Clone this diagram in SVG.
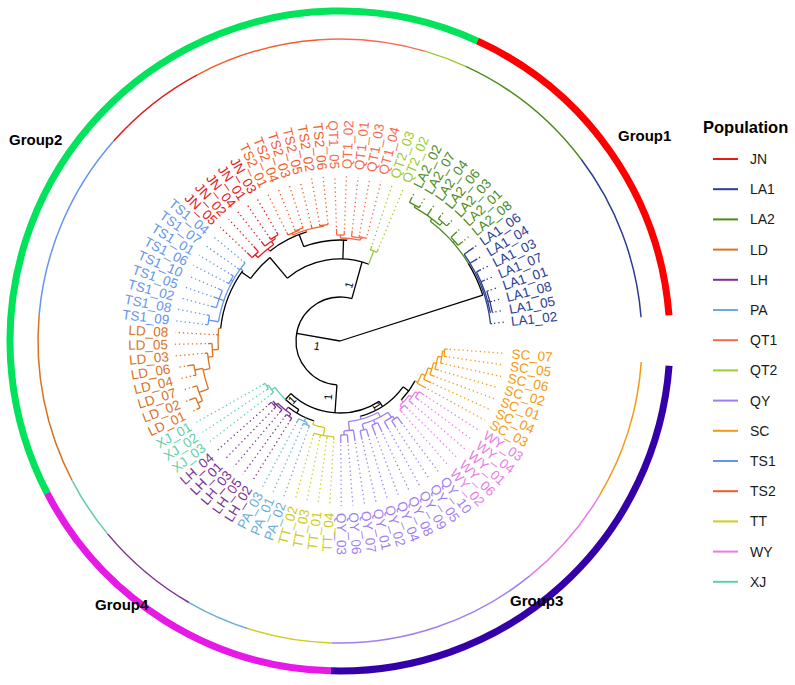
<svg xmlns="http://www.w3.org/2000/svg" width="795" height="685" viewBox="0 0 795 685">
<style>
text{font-family:"Liberation Sans",Arial,Helvetica,sans-serif;fill:currentColor;stroke:none}
line,circle{stroke:currentColor;fill:none}
#connectors line,#connectors circle{stroke-width:1.3}
.d{stroke-dasharray:1.3 3;stroke-width:1.3}
.tips text{font-size:13.5px}
.f{text-anchor:end}
.nl{font-size:11px;text-anchor:middle;fill:#000}
.grp{font-size:15px;font-weight:bold;fill:#000}
.lg text{font-size:14px;fill:#1a1a1a}
.lg line{stroke-width:2}
.k{color:#000}
.cJN{color:#e31a1c}.cLA1{color:#2b3d94}.cLA2{color:#4b8b1c}.cLD{color:#d8731f}.cLH{color:#7b3294}
.cPA{color:#6aaed6}.cQT1{color:#f8694f}.cQT2{color:#9acd32}.cQY{color:#9f7ff0}.cSC{color:#f39a12}
.cTS1{color:#6495ed}.cTS2{color:#f25c2a}.cTT{color:#cdcd1a}.cWY{color:#ea7be6}.cXJ{color:#5fd0a6}
</style>
<rect width="795" height="685" fill="#fff"/>
<g transform="translate(340,341)">
<g id="group-ring" stroke-width="7">
<circle r="330" style="color:#ff0000" stroke-dasharray="350.76 3000" transform="rotate(294.59)"/>
<circle r="330" style="color:#00e35a" stroke-dasharray="818.44 3000" transform="rotate(152.49)"/>
<circle r="330" style="color:#3300aa" stroke-dasharray="502.75 3000" transform="rotate(4.3)"/>
<circle r="330" style="color:#e619e6" stroke-dasharray="350.76 3000" transform="rotate(91.59)"/>
</g>
<g id="population-ring" stroke-width="1.5">
<circle r="302" class="cSC" stroke-dasharray="140.68 3000" transform="rotate(4)"/>
<circle r="302" class="cWY" stroke-dasharray="107 3000" transform="rotate(30.69)"/>
<circle r="302" class="cQY" stroke-dasharray="214 3000" transform="rotate(50.99)"/>
<circle r="302" class="cTT" stroke-dasharray="85.6 3000" transform="rotate(91.59)"/>
<circle r="302" class="cPA" stroke-dasharray="64.2 3000" transform="rotate(107.83)"/>
<circle r="302" class="cLH" stroke-dasharray="107 3000" transform="rotate(120.01)"/>
<circle r="302" class="cXJ" stroke-dasharray="64.2 3000" transform="rotate(140.31)"/>
<circle r="302" class="cLD" stroke-dasharray="171.2 3000" transform="rotate(152.49)"/>
<circle r="302" class="cTS1" stroke-dasharray="192.6 3000" transform="rotate(184.97)"/>
<circle r="302" class="cJN" stroke-dasharray="107 3000" transform="rotate(221.51)"/>
<circle r="302" class="cTS2" stroke-dasharray="128.4 3000" transform="rotate(241.81)"/>
<circle r="302" class="cQT1" stroke-dasharray="107 3000" transform="rotate(266.17)"/>
<circle r="302" class="cQT2" stroke-dasharray="42.8 3000" transform="rotate(286.47)"/>
<circle r="302" class="cLA2" stroke-dasharray="149.8 3000" transform="rotate(294.59)"/>
<circle r="302" class="cLA1" stroke-dasharray="171.2 3000" transform="rotate(323.01)"/>
</g>
<g id="connectors">
<g class="k">
<line x1="0" x2="150" transform="rotate(342.2)"/>
<line x1="0" x2="44" transform="rotate(190)"/>
<circle r="44" stroke-dasharray="147.1 3000" transform="rotate(94)"/>
<line x1="44" x2="82" transform="rotate(285.6)"/>
<line x1="44" x2="72" transform="rotate(94)"/>
<circle r="150" stroke-dasharray="35.08 3000" transform="rotate(328.8)"/>
<circle r="82" stroke-dasharray="86.58 3000" transform="rotate(230)"/>
<line x1="82" x2="101" transform="rotate(272)"/>
<circle r="101" stroke-dasharray="44.07 3000" transform="rotate(249)"/>
<line x1="101" x2="114" transform="rotate(249)"/>
<circle r="114" stroke-dasharray="41.78 3000" transform="rotate(232)"/>
<line x1="82" x2="109" transform="rotate(230)"/>
<circle r="109" stroke-dasharray="28.54 3000" transform="rotate(215)"/>
<line x1="109" x2="120" transform="rotate(215)"/>
<circle r="120" stroke-dasharray="62.83 3000" transform="rotate(186)"/>
<circle r="72" stroke-dasharray="95.5 3000" transform="rotate(57)"/>
<line x1="72" x2="80" transform="rotate(133)"/>
<circle r="80" stroke-dasharray="16.76 3000" transform="rotate(121)"/>
<line x1="80" x2="84" transform="rotate(121)"/>
<circle r="84" stroke-dasharray="29.32 3000" transform="rotate(108)"/>
<line x1="72" x2="78" transform="rotate(57)"/>
<circle r="78" stroke-dasharray="53.09 3000" transform="rotate(36)"/>
<line x1="78" x2="85" transform="rotate(36)"/>
<circle r="85" stroke-dasharray="23.74 3000" transform="rotate(28)"/>
</g>
<g class="cSC">
<line x1="85" x2="88" transform="rotate(28)"/>
<circle r="88" stroke-dasharray="10.23 3000" transform="rotate(22)"/>
<line x1="88" x2="98" transform="rotate(28.66)"/>
<line x1="88" x2="92" transform="rotate(22)"/>
<circle r="92" stroke-dasharray="12.2 3000" transform="rotate(17)"/>
<line x1="92" x2="100" transform="rotate(24.6)"/>
<line x1="92" x2="96" transform="rotate(17)"/>
<circle r="96" stroke-dasharray="12.63 3000" transform="rotate(13)"/>
<line x1="96" x2="101" transform="rotate(20.54)"/>
<line x1="96" x2="99" transform="rotate(13)"/>
<circle r="99" stroke-dasharray="12.92 3000" transform="rotate(9)"/>
<line x1="99" x2="103" transform="rotate(16.48)"/>
<line x1="99" x2="103" transform="rotate(9)"/>
<circle r="103" stroke-dasharray="12.44 3000" transform="rotate(5.5)"/>
<line x1="103" x2="106" transform="rotate(12.42)"/>
<line x1="103" x2="105" transform="rotate(5.5)"/>
<circle r="105" stroke-dasharray="7.44 3000" transform="rotate(4.3)"/>
<line x1="105" x2="108" transform="rotate(8.36)"/>
<line x1="105" x2="108" transform="rotate(4.3)"/>
</g>
<g class="cWY">
<line x1="85" x2="88" transform="rotate(44)"/>
<circle r="88" stroke-dasharray="13.82 3000" transform="rotate(38)"/>
<line x1="88" x2="91" transform="rotate(47)"/>
<circle r="91" stroke-dasharray="6.45 3000" transform="rotate(44.9)"/>
<line x1="91" x2="96" transform="rotate(44.9)"/>
<line x1="91" x2="95" transform="rotate(48.96)"/>
<line x1="88" x2="91" transform="rotate(38)"/>
<circle r="91" stroke-dasharray="10.86 3000" transform="rotate(34)"/>
<line x1="91" x2="97" transform="rotate(40.84)"/>
<line x1="91" x2="94" transform="rotate(34)"/>
<circle r="94" stroke-dasharray="6.66 3000" transform="rotate(32.72)"/>
<line x1="94" x2="100" transform="rotate(32.72)"/>
<line x1="94" x2="99" transform="rotate(36.78)"/>
</g>
<g class="cQY">
<line x1="78" x2="81" transform="rotate(75)"/>
<circle r="81" stroke-dasharray="31.1 3000" transform="rotate(62)"/>
<line x1="81" x2="90" transform="rotate(84)"/>
<circle r="90" stroke-dasharray="9.52 3000" transform="rotate(81.44)"/>
<line x1="90" x2="101" transform="rotate(81.44)"/>
<line x1="90" x2="94" transform="rotate(87.5)"/>
<circle r="94" stroke-dasharray="6.66 3000" transform="rotate(85.5)"/>
<line x1="94" x2="102" transform="rotate(85.5)"/>
<line x1="94" x2="102" transform="rotate(89.56)"/>
<line x1="81" x2="86" transform="rotate(62)"/>
<circle r="86" stroke-dasharray="28.52 3000" transform="rotate(56)"/>
<line x1="86" x2="92" transform="rotate(75)"/>
<circle r="92" stroke-dasharray="6.52 3000" transform="rotate(73.32)"/>
<line x1="92" x2="101" transform="rotate(77.38)"/>
<line x1="92" x2="100" transform="rotate(73.32)"/>
<line x1="86" x2="90" transform="rotate(67)"/>
<circle r="90" stroke-dasharray="6.38 3000" transform="rotate(65.2)"/>
<line x1="90" x2="101" transform="rotate(69.26)"/>
<line x1="90" x2="100" transform="rotate(65.2)"/>
<line x1="86" x2="92" transform="rotate(56)"/>
<circle r="92" stroke-dasharray="9.86 3000" transform="rotate(55)"/>
<line x1="92" x2="101" transform="rotate(61.14)"/>
<line x1="92" x2="95" transform="rotate(55)"/>
<circle r="95" stroke-dasharray="6.73 3000" transform="rotate(53.02)"/>
<line x1="95" x2="103" transform="rotate(57.08)"/>
<line x1="95" x2="104" transform="rotate(53.02)"/>
</g>
<g class="cTT">
<line x1="84" x2="88" transform="rotate(108)"/>
<circle r="88" stroke-dasharray="12.29 3000" transform="rotate(100)"/>
<line x1="88" x2="96" transform="rotate(100)"/>
<circle r="96" stroke-dasharray="20.41 3000" transform="rotate(93.62)"/>
<line x1="96" x2="99" transform="rotate(93.62)"/>
<line x1="96" x2="99" transform="rotate(97.68)"/>
<line x1="96" x2="99" transform="rotate(101.74)"/>
<line x1="96" x2="99" transform="rotate(105.8)"/>
</g>
<g class="cPA">
<line x1="84" x2="88" transform="rotate(114)"/>
<circle r="88" stroke-dasharray="9.34 3000" transform="rotate(111.9)"/>
<line x1="88" x2="90" transform="rotate(111.9)"/>
<circle r="90" stroke-dasharray="6.38 3000" transform="rotate(109.86)"/>
<line x1="90" x2="93" transform="rotate(109.86)"/>
<line x1="90" x2="93" transform="rotate(113.92)"/>
<line x1="88" x2="93" transform="rotate(117.98)"/>
</g>
<g class="cLH">
<line x1="84" x2="88" transform="rotate(128)"/>
<circle r="88" stroke-dasharray="16.89 3000" transform="rotate(124)"/>
<line x1="88" x2="91" transform="rotate(124)"/>
<circle r="91" stroke-dasharray="6.45 3000" transform="rotate(122.04)"/>
<line x1="91" x2="95" transform="rotate(122.04)"/>
<line x1="91" x2="94" transform="rotate(126.1)"/>
<line x1="88" x2="90" transform="rotate(135)"/>
<circle r="90" stroke-dasharray="12.75 3000" transform="rotate(130.16)"/>
<line x1="90" x2="94" transform="rotate(130.16)"/>
<line x1="90" x2="92" transform="rotate(136)"/>
<circle r="92" stroke-dasharray="6.52 3000" transform="rotate(134.22)"/>
<line x1="92" x2="95" transform="rotate(134.22)"/>
<line x1="92" x2="96" transform="rotate(138.28)"/>
</g>
<g class="cXJ">
<circle r="80" stroke-dasharray="16.06 3000" transform="rotate(133)"/>
<line x1="80" x2="84" transform="rotate(144.5)"/>
<circle r="84" stroke-dasharray="8.88 3000" transform="rotate(142.34)"/>
<line x1="84" x2="88" transform="rotate(142.34)"/>
<line x1="84" x2="86" transform="rotate(148.4)"/>
<circle r="86" stroke-dasharray="6.09 3000" transform="rotate(146.4)"/>
<line x1="86" x2="89" transform="rotate(146.4)"/>
<line x1="86" x2="89" transform="rotate(150.46)"/>
</g>
<g class="cLD">
<line x1="120" x2="122" transform="rotate(186)"/>
<circle r="122" stroke-dasharray="21.29 3000" transform="rotate(176)"/>
<line x1="122" x2="124" transform="rotate(182.94)"/>
<line x1="122" x2="128" transform="rotate(176)"/>
<circle r="128" stroke-dasharray="13.14 3000" transform="rotate(173)"/>
<line x1="128" x2="132" transform="rotate(178.88)"/>
<line x1="128" x2="133" transform="rotate(173)"/>
<circle r="133" stroke-dasharray="15.83 3000" transform="rotate(168)"/>
<line x1="133" x2="136" transform="rotate(174.82)"/>
<line x1="133" x2="140" transform="rotate(168)"/>
<circle r="140" stroke-dasharray="21.26 3000" transform="rotate(160)"/>
<line x1="140" x2="148" transform="rotate(168.7)"/>
<circle r="148" stroke-dasharray="10.49 3000" transform="rotate(166.7)"/>
<line x1="148" x2="155" transform="rotate(170.76)"/>
<line x1="148" x2="151" transform="rotate(166.7)"/>
<line x1="140" x2="150" transform="rotate(160)"/>
<circle r="150" stroke-dasharray="16.07 3000" transform="rotate(156.5)"/>
<line x1="150" x2="155" transform="rotate(162.64)"/>
<line x1="150" x2="155" transform="rotate(156.5)"/>
<circle r="155" stroke-dasharray="10.98 3000" transform="rotate(154.52)"/>
<line x1="155" x2="162" transform="rotate(158.58)"/>
<line x1="155" x2="159" transform="rotate(154.52)"/>
</g>
<g class="cTS1">
<line x1="120" x2="123" transform="rotate(216)"/>
<circle r="123" stroke-dasharray="65.43 3000" transform="rotate(189)"/>
<line x1="123" x2="125" transform="rotate(219.48)"/>
<line x1="123" x2="126" transform="rotate(215.42)"/>
<line x1="123" x2="125" transform="rotate(209.3)"/>
<circle r="125" stroke-dasharray="8.86 3000" transform="rotate(207.3)"/>
<line x1="125" x2="128" transform="rotate(207.3)"/>
<line x1="125" x2="128" transform="rotate(211.36)"/>
<line x1="123" x2="128" transform="rotate(199.2)"/>
<circle r="128" stroke-dasharray="18.14 3000" transform="rotate(195.12)"/>
<line x1="128" x2="134" transform="rotate(195.12)"/>
<line x1="128" x2="134" transform="rotate(199.18)"/>
<line x1="128" x2="133" transform="rotate(203.24)"/>
<line x1="123" x2="133" transform="rotate(189)"/>
<circle r="133" stroke-dasharray="9.42 3000" transform="rotate(187)"/>
<line x1="133" x2="136" transform="rotate(187)"/>
<line x1="133" x2="136" transform="rotate(191.06)"/>
</g>
<g class="cJN">
<line x1="114" x2="117" transform="rotate(232)"/>
<circle r="117" stroke-dasharray="20.42 3000" transform="rotate(225.5)"/>
<line x1="117" x2="121" transform="rotate(225.5)"/>
<circle r="121" stroke-dasharray="8.57 3000" transform="rotate(223.54)"/>
<line x1="121" x2="128" transform="rotate(223.54)"/>
<line x1="121" x2="128" transform="rotate(227.6)"/>
<line x1="117" x2="121" transform="rotate(235.5)"/>
<circle r="121" stroke-dasharray="12.86 3000" transform="rotate(231.66)"/>
<line x1="121" x2="127" transform="rotate(231.66)"/>
<line x1="121" x2="123" transform="rotate(237.75)"/>
<circle r="123" stroke-dasharray="8.72 3000" transform="rotate(235.72)"/>
<line x1="123" x2="126" transform="rotate(235.72)"/>
<line x1="123" x2="126" transform="rotate(239.78)"/>
</g>
<g class="cTS2">
<line x1="114" x2="116" transform="rotate(253)"/>
<circle r="116" stroke-dasharray="32.39 3000" transform="rotate(246)"/>
<line x1="116" x2="118" transform="rotate(246)"/>
<circle r="118" stroke-dasharray="12.54 3000" transform="rotate(243.84)"/>
<line x1="118" x2="121" transform="rotate(243.84)"/>
<line x1="118" x2="119" transform="rotate(249.93)"/>
<circle r="119" stroke-dasharray="8.43 3000" transform="rotate(247.9)"/>
<line x1="119" x2="121" transform="rotate(247.9)"/>
<line x1="119" x2="121" transform="rotate(251.96)"/>
<line x1="116" x2="120" transform="rotate(256.02)"/>
<line x1="116" x2="117" transform="rotate(262)"/>
<circle r="117" stroke-dasharray="8.29 3000" transform="rotate(260.08)"/>
<line x1="117" x2="119" transform="rotate(260.08)"/>
<line x1="117" x2="119" transform="rotate(264.14)"/>
</g>
<g class="cQT1">
<line x1="101" x2="103" transform="rotate(274)"/>
<circle r="103" stroke-dasharray="20.13 3000" transform="rotate(270.2)"/>
<line x1="103" x2="106" transform="rotate(270.2)"/>
<circle r="106" stroke-dasharray="7.51 3000" transform="rotate(268.2)"/>
<line x1="106" x2="112" transform="rotate(268.2)"/>
<line x1="106" x2="110" transform="rotate(272.26)"/>
<line x1="103" x2="105" transform="rotate(281.4)"/>
<circle r="105" stroke-dasharray="11.16 3000" transform="rotate(276.32)"/>
<line x1="105" x2="111" transform="rotate(276.32)"/>
<line x1="105" x2="106" transform="rotate(282.41)"/>
<circle r="106" stroke-dasharray="7.51 3000" transform="rotate(280.38)"/>
<line x1="106" x2="108" transform="rotate(280.38)"/>
<line x1="106" x2="107" transform="rotate(284.44)"/>
</g>
<g class="cQT2">
<line x1="82" x2="96" transform="rotate(290.5)"/>
<circle r="96" stroke-dasharray="6.8 3000" transform="rotate(288.5)"/>
<line x1="96" x2="100" transform="rotate(288.5)"/>
<line x1="96" x2="100" transform="rotate(292.56)"/>
</g>
<g class="cLA2">
<circle r="150" stroke-dasharray="57.07 3000" transform="rotate(307)"/>
<line x1="150" x2="153" transform="rotate(307)"/>
<circle r="153" stroke-dasharray="31.51 3000" transform="rotate(299)"/>
<line x1="153" x2="155" transform="rotate(299)"/>
<circle r="155" stroke-dasharray="10.98 3000" transform="rotate(296.62)"/>
<line x1="155" x2="161" transform="rotate(296.62)"/>
<line x1="155" x2="158" transform="rotate(300.68)"/>
<line x1="153" x2="161" transform="rotate(304.74)"/>
<line x1="153" x2="157" transform="rotate(310.8)"/>
<circle r="157" stroke-dasharray="11.12 3000" transform="rotate(308.8)"/>
<line x1="157" x2="161" transform="rotate(308.8)"/>
<line x1="157" x2="161" transform="rotate(312.86)"/>
<line x1="150" x2="152" transform="rotate(319)"/>
<circle r="152" stroke-dasharray="10.77 3000" transform="rotate(316.92)"/>
<line x1="152" x2="160" transform="rotate(316.92)"/>
<line x1="152" x2="158" transform="rotate(320.98)"/>
</g>
<g class="cLA1">
<circle r="151.5" stroke-dasharray="75.1 3000" transform="rotate(325.04)"/>
<line x1="151.5" x2="163" transform="rotate(325.04)"/>
<line x1="151.5" x2="160" transform="rotate(329.1)"/>
<line x1="151.5" x2="153" transform="rotate(340)"/>
<circle r="153" stroke-dasharray="43.37 3000" transform="rotate(333.16)"/>
<line x1="153" x2="158" transform="rotate(333.16)"/>
<line x1="153" x2="157" transform="rotate(337.22)"/>
<line x1="153" x2="155" transform="rotate(345)"/>
<circle r="155" stroke-dasharray="21.97 3000" transform="rotate(341.28)"/>
<line x1="155" x2="157" transform="rotate(341.28)"/>
<line x1="155" x2="157" transform="rotate(345.34)"/>
<line x1="155" x2="156" transform="rotate(349.4)"/>
<line x1="151.5" x2="153" transform="rotate(353.46)"/>
</g>
</g>
<g class="tips">
<g id="SC_07" class="cSC" transform="rotate(4.3)"><line class="d" x1="110" x2="165"/><text x="172" dy=".35em">SC_07</text></g>
<g id="SC_05" class="cSC" transform="rotate(8.36)"><line class="d" x1="110" x2="165"/><text x="172" dy=".35em">SC_05</text></g>
<g id="SC_06" class="cSC" transform="rotate(12.42)"><line class="d" x1="108" x2="165"/><text x="172" dy=".35em">SC_06</text></g>
<g id="SC_02" class="cSC" transform="rotate(16.48)"><line class="d" x1="105" x2="165"/><text x="172" dy=".35em">SC_02</text></g>
<g id="SC_01" class="cSC" transform="rotate(20.54)"><line class="d" x1="103" x2="165"/><text x="172" dy=".35em">SC_01</text></g>
<g id="SC_04" class="cSC" transform="rotate(24.6)"><line class="d" x1="102" x2="165"/><text x="172" dy=".35em">SC_04</text></g>
<g id="SC_03" class="cSC" transform="rotate(28.66)"><line class="d" x1="100" x2="165"/><text x="172" dy=".35em">SC_03</text></g>
<g id="WY_03" class="cWY" transform="rotate(32.72)"><line class="d" x1="102" x2="165"/><text x="172" dy=".35em">WY_03</text></g>
<g id="WY_04" class="cWY" transform="rotate(36.78)"><line class="d" x1="101" x2="165"/><text x="172" dy=".35em">WY_04</text></g>
<g id="WY_01" class="cWY" transform="rotate(40.84)"><line class="d" x1="99" x2="165"/><text x="172" dy=".35em">WY_01</text></g>
<g id="WY_06" class="cWY" transform="rotate(44.9)"><line class="d" x1="98" x2="165"/><text x="172" dy=".35em">WY_06</text></g>
<g id="WY_02" class="cWY" transform="rotate(48.96)"><line class="d" x1="97" x2="165"/><text x="172" dy=".35em">WY_02</text></g>
<g id="QY_10" class="cQY" transform="rotate(53.02)"><line class="d" x1="106" x2="165"/><text x="172" dy=".35em">QY_10</text></g>
<g id="QY_05" class="cQY" transform="rotate(57.08)"><line class="d" x1="105" x2="165"/><text x="172" dy=".35em">QY_05</text></g>
<g id="QY_09" class="cQY" transform="rotate(61.14)"><line class="d" x1="103" x2="165"/><text x="172" dy=".35em">QY_09</text></g>
<g id="QY_08" class="cQY" transform="rotate(65.2)"><line class="d" x1="102" x2="165"/><text x="172" dy=".35em">QY_08</text></g>
<g id="QY_04" class="cQY" transform="rotate(69.26)"><line class="d" x1="103" x2="165"/><text x="172" dy=".35em">QY_04</text></g>
<g id="QY_02" class="cQY" transform="rotate(73.32)"><line class="d" x1="102" x2="165"/><text x="172" dy=".35em">QY_02</text></g>
<g id="QY_01" class="cQY" transform="rotate(77.38)"><line class="d" x1="103" x2="165"/><text x="172" dy=".35em">QY_01</text></g>
<g id="QY_07" class="cQY" transform="rotate(81.44)"><line class="d" x1="103" x2="165"/><text x="172" dy=".35em">QY_07</text></g>
<g id="QY_06" class="cQY" transform="rotate(85.5)"><line class="d" x1="104" x2="165"/><text x="172" dy=".35em">QY_06</text></g>
<g id="QY_03" class="cQY" transform="rotate(89.56)"><line class="d" x1="104" x2="165"/><text x="172" dy=".35em">QY_03</text></g>
<g id="TT_04" class="cTT" transform="rotate(93.62)"><line class="d" x1="101" x2="165"/><text class="f" x="-172" dy=".35em" transform="rotate(180)">TT_04</text></g>
<g id="TT_01" class="cTT" transform="rotate(97.68)"><line class="d" x1="101" x2="165"/><text class="f" x="-172" dy=".35em" transform="rotate(180)">TT_01</text></g>
<g id="TT_03" class="cTT" transform="rotate(101.74)"><line class="d" x1="101" x2="165"/><text class="f" x="-172" dy=".35em" transform="rotate(180)">TT_03</text></g>
<g id="TT_02" class="cTT" transform="rotate(105.8)"><line class="d" x1="101" x2="165"/><text class="f" x="-172" dy=".35em" transform="rotate(180)">TT_02</text></g>
<g id="PA_02" class="cPA" transform="rotate(109.86)"><line class="d" x1="95" x2="165"/><text class="f" x="-172" dy=".35em" transform="rotate(180)">PA_02</text></g>
<g id="PA_01" class="cPA" transform="rotate(113.92)"><line class="d" x1="95" x2="165"/><text class="f" x="-172" dy=".35em" transform="rotate(180)">PA_01</text></g>
<g id="PA_03" class="cPA" transform="rotate(117.98)"><line class="d" x1="95" x2="165"/><text class="f" x="-172" dy=".35em" transform="rotate(180)">PA_03</text></g>
<g id="LH_02" class="cLH" transform="rotate(122.04)"><line class="d" x1="97" x2="165"/><text class="f" x="-172" dy=".35em" transform="rotate(180)">LH_02</text></g>
<g id="LH_05" class="cLH" transform="rotate(126.1)"><line class="d" x1="96" x2="165"/><text class="f" x="-172" dy=".35em" transform="rotate(180)">LH_05</text></g>
<g id="LH_03" class="cLH" transform="rotate(130.16)"><line class="d" x1="96" x2="165"/><text class="f" x="-172" dy=".35em" transform="rotate(180)">LH_03</text></g>
<g id="LH_01" class="cLH" transform="rotate(134.22)"><line class="d" x1="97" x2="165"/><text class="f" x="-172" dy=".35em" transform="rotate(180)">LH_01</text></g>
<g id="LH_04" class="cLH" transform="rotate(138.28)"><line class="d" x1="98" x2="165"/><text class="f" x="-172" dy=".35em" transform="rotate(180)">LH_04</text></g>
<g id="XJ_03" class="cXJ" transform="rotate(142.34)"><line class="d" x1="90" x2="165"/><text class="f" x="-172" dy=".35em" transform="rotate(180)">XJ_03</text></g>
<g id="XJ_02" class="cXJ" transform="rotate(146.4)"><line class="d" x1="91" x2="165"/><text class="f" x="-172" dy=".35em" transform="rotate(180)">XJ_02</text></g>
<g id="XJ_01" class="cXJ" transform="rotate(150.46)"><line class="d" x1="91" x2="165"/><text class="f" x="-172" dy=".35em" transform="rotate(180)">XJ_01</text></g>
<g id="LD_01" class="cLD" transform="rotate(154.52)"><line class="d" x1="161" x2="165"/><text class="f" x="-172" dy=".35em" transform="rotate(180)">LD_01</text></g>
<g id="LD_02" class="cLD" transform="rotate(158.58)"><line class="d" x1="164" x2="166"/><text class="f" x="-172" dy=".35em" transform="rotate(180)">LD_02</text></g>
<g id="LD_07" class="cLD" transform="rotate(162.64)"><line class="d" x1="157" x2="165"/><text class="f" x="-172" dy=".35em" transform="rotate(180)">LD_07</text></g>
<g id="LD_04" class="cLD" transform="rotate(166.7)"><line class="d" x1="153" x2="165"/><text class="f" x="-172" dy=".35em" transform="rotate(180)">LD_04</text></g>
<g id="LD_06" class="cLD" transform="rotate(170.76)"><line class="d" x1="157" x2="165"/><text class="f" x="-172" dy=".35em" transform="rotate(180)">LD_06</text></g>
<g id="LD_03" class="cLD" transform="rotate(174.82)"><line class="d" x1="138" x2="165"/><text class="f" x="-172" dy=".35em" transform="rotate(180)">LD_03</text></g>
<g id="LD_05" class="cLD" transform="rotate(178.88)"><line class="d" x1="134" x2="165"/><text class="f" x="-172" dy=".35em" transform="rotate(180)">LD_05</text></g>
<g id="LD_08" class="cLD" transform="rotate(182.94)"><line class="d" x1="126" x2="165"/><text class="f" x="-172" dy=".35em" transform="rotate(180)">LD_08</text></g>
<g id="TS1_09" class="cTS1" transform="rotate(187)"><line class="d" x1="138" x2="165"/><text class="f" x="-172" dy=".35em" transform="rotate(180)">TS1_09</text></g>
<g id="TS1_08" class="cTS1" transform="rotate(191.06)"><line class="d" x1="138" x2="165"/><text class="f" x="-172" dy=".35em" transform="rotate(180)">TS1_08</text></g>
<g id="TS1_02" class="cTS1" transform="rotate(195.12)"><line class="d" x1="136" x2="165"/><text class="f" x="-172" dy=".35em" transform="rotate(180)">TS1_02</text></g>
<g id="TS1_05" class="cTS1" transform="rotate(199.18)"><line class="d" x1="136" x2="165"/><text class="f" x="-172" dy=".35em" transform="rotate(180)">TS1_05</text></g>
<g id="TS1_10" class="cTS1" transform="rotate(203.24)"><line class="d" x1="135" x2="165"/><text class="f" x="-172" dy=".35em" transform="rotate(180)">TS1_10</text></g>
<g id="TS1_06" class="cTS1" transform="rotate(207.3)"><line class="d" x1="130" x2="165"/><text class="f" x="-172" dy=".35em" transform="rotate(180)">TS1_06</text></g>
<g id="TS1_01" class="cTS1" transform="rotate(211.36)"><line class="d" x1="130" x2="165"/><text class="f" x="-172" dy=".35em" transform="rotate(180)">TS1_01</text></g>
<g id="TS1_07" class="cTS1" transform="rotate(215.42)"><line class="d" x1="128" x2="165"/><text class="f" x="-172" dy=".35em" transform="rotate(180)">TS1_07</text></g>
<g id="TS1_04" class="cTS1" transform="rotate(219.48)"><line class="d" x1="127" x2="165"/><text class="f" x="-172" dy=".35em" transform="rotate(180)">TS1_04</text></g>
<g id="JN_05" class="cJN" transform="rotate(223.54)"><line class="d" x1="130" x2="165"/><text class="f" x="-172" dy=".35em" transform="rotate(180)">JN_05</text></g>
<g id="JN_02" class="cJN" transform="rotate(227.6)"><line class="d" x1="130" x2="165"/><text class="f" x="-172" dy=".35em" transform="rotate(180)">JN_02</text></g>
<g id="JN_04" class="cJN" transform="rotate(231.66)"><line class="d" x1="129" x2="165"/><text class="f" x="-172" dy=".35em" transform="rotate(180)">JN_04</text></g>
<g id="JN_01" class="cJN" transform="rotate(235.72)"><line class="d" x1="128" x2="165"/><text class="f" x="-172" dy=".35em" transform="rotate(180)">JN_01</text></g>
<g id="JN_03" class="cJN" transform="rotate(239.78)"><line class="d" x1="128" x2="165"/><text class="f" x="-172" dy=".35em" transform="rotate(180)">JN_03</text></g>
<g id="TS2_01" class="cTS2" transform="rotate(243.84)"><line class="d" x1="123" x2="165"/><text class="f" x="-172" dy=".35em" transform="rotate(180)">TS2_01</text></g>
<g id="TS2_04" class="cTS2" transform="rotate(247.9)"><line class="d" x1="123" x2="165"/><text class="f" x="-172" dy=".35em" transform="rotate(180)">TS2_04</text></g>
<g id="TS2_03" class="cTS2" transform="rotate(251.96)"><line class="d" x1="123" x2="165"/><text class="f" x="-172" dy=".35em" transform="rotate(180)">TS2_03</text></g>
<g id="TS2_05" class="cTS2" transform="rotate(256.02)"><line class="d" x1="122" x2="165"/><text class="f" x="-172" dy=".35em" transform="rotate(180)">TS2_05</text></g>
<g id="TS2_02" class="cTS2" transform="rotate(260.08)"><line class="d" x1="121" x2="165"/><text class="f" x="-172" dy=".35em" transform="rotate(180)">TS2_02</text></g>
<g id="TS2_06" class="cTS2" transform="rotate(264.14)"><line class="d" x1="121" x2="165"/><text class="f" x="-172" dy=".35em" transform="rotate(180)">TS2_06</text></g>
<g id="QT1_05" class="cQT1" transform="rotate(268.2)"><line class="d" x1="114" x2="165"/><text class="f" x="-172" dy=".35em" transform="rotate(180)">QT1_05</text></g>
<g id="QT1_02" class="cQT1" transform="rotate(272.26)"><line class="d" x1="112" x2="165"/><text x="172" dy=".35em">QT1_02</text></g>
<g id="QT1_01" class="cQT1" transform="rotate(276.32)"><line class="d" x1="113" x2="165"/><text x="172" dy=".35em">QT1_01</text></g>
<g id="QT1_03" class="cQT1" transform="rotate(280.38)"><line class="d" x1="110" x2="165"/><text x="172" dy=".35em">QT1_03</text></g>
<g id="QT1_04" class="cQT1" transform="rotate(284.44)"><line class="d" x1="109" x2="165"/><text x="172" dy=".35em">QT1_04</text></g>
<g id="QT2_03" class="cQT2" transform="rotate(288.5)"><line class="d" x1="102" x2="165"/><text x="172" dy=".35em">QT2_03</text></g>
<g id="QT2_02" class="cQT2" transform="rotate(292.56)"><line class="d" x1="102" x2="165"/><text x="172" dy=".35em">QT2_02</text></g>
<g id="LA2_02" class="cLA2" transform="rotate(296.62)"><line class="d" x1="163" x2="166"/><text x="172" dy=".35em">LA2_02</text></g>
<g id="LA2_07" class="cLA2" transform="rotate(300.68)"><line class="d" x1="160" x2="166"/><text x="172" dy=".35em">LA2_07</text></g>
<g id="LA2_04" class="cLA2" transform="rotate(304.74)"><line class="d" x1="163" x2="166"/><text x="172" dy=".35em">LA2_04</text></g>
<g id="LA2_06" class="cLA2" transform="rotate(308.8)"><line class="d" x1="163" x2="166"/><text x="172" dy=".35em">LA2_06</text></g>
<g id="LA2_03" class="cLA2" transform="rotate(312.86)"><line class="d" x1="163" x2="166"/><text x="172" dy=".35em">LA2_03</text></g>
<g id="LA2_01" class="cLA2" transform="rotate(316.92)"><line class="d" x1="162" x2="166"/><text x="172" dy=".35em">LA2_01</text></g>
<g id="LA2_08" class="cLA2" transform="rotate(320.98)"><line class="d" x1="160" x2="166"/><text x="172" dy=".35em">LA2_08</text></g>
<g id="LA1_06" class="cLA1" transform="rotate(325.04)"><line class="d" x1="165" x2="167"/><text x="172" dy=".35em">LA1_06</text></g>
<g id="LA1_04" class="cLA1" transform="rotate(329.1)"><line class="d" x1="162" x2="166"/><text x="172" dy=".35em">LA1_04</text></g>
<g id="LA1_03" class="cLA1" transform="rotate(333.16)"><line class="d" x1="160" x2="166"/><text x="172" dy=".35em">LA1_03</text></g>
<g id="LA1_07" class="cLA1" transform="rotate(337.22)"><line class="d" x1="159" x2="166"/><text x="172" dy=".35em">LA1_07</text></g>
<g id="LA1_01" class="cLA1" transform="rotate(341.28)"><line class="d" x1="159" x2="166"/><text x="172" dy=".35em">LA1_01</text></g>
<g id="LA1_08" class="cLA1" transform="rotate(345.34)"><line class="d" x1="159" x2="166"/><text x="172" dy=".35em">LA1_08</text></g>
<g id="LA1_05" class="cLA1" transform="rotate(349.4)"><line class="d" x1="158" x2="166"/><text x="172" dy=".35em">LA1_05</text></g>
<g id="LA1_02" class="cLA1" transform="rotate(353.46)"><line class="d" x1="155" x2="166"/><text x="172" dy=".35em">LA1_02</text></g>
</g>
</g>
<g id="node-labels">
<text class="nl" dy=".35em" transform="translate(317,346) rotate(10)">1</text>
<text class="nl" dy=".35em" transform="translate(349,285) rotate(-74)">1</text>
<text class="nl" dy=".35em" transform="translate(328,397) rotate(-86)">1</text>
<text class="nl" dy=".35em" transform="translate(377,406) rotate(57)">1</text>
<text class="nl" dy=".35em" transform="translate(292,400) rotate(-47)">1</text>
</g>
<g id="group-labels">
<text class="grp" x="618" y="141">Group1</text>
<text class="grp" x="9" y="145">Group2</text>
<text class="grp" x="510" y="606">Group3</text>
<text class="grp" x="95" y="610">Group4</text>
</g>
<g id="legend" class="lg">
<text x="703" y="133" style="font-size:16.5px;font-weight:bold;fill:#000">Population</text>
<g class="cJN"><line x1="713" x2="738" y1="159" y2="159"/><text x="750" y="164">JN</text></g>
<g class="cLA1"><line x1="713" x2="738" y1="189.2" y2="189.2"/><text x="750" y="194.2">LA1</text></g>
<g class="cLA2"><line x1="713" x2="738" y1="219.4" y2="219.4"/><text x="750" y="224.4">LA2</text></g>
<g class="cLD"><line x1="713" x2="738" y1="249.6" y2="249.6"/><text x="750" y="254.6">LD</text></g>
<g class="cLH"><line x1="713" x2="738" y1="279.8" y2="279.8"/><text x="750" y="284.8">LH</text></g>
<g class="cPA"><line x1="713" x2="738" y1="310" y2="310"/><text x="750" y="315">PA</text></g>
<g class="cQT1"><line x1="713" x2="738" y1="340.2" y2="340.2"/><text x="750" y="345.2">QT1</text></g>
<g class="cQT2"><line x1="713" x2="738" y1="370.4" y2="370.4"/><text x="750" y="375.4">QT2</text></g>
<g class="cQY"><line x1="713" x2="738" y1="400.6" y2="400.6"/><text x="750" y="405.6">QY</text></g>
<g class="cSC"><line x1="713" x2="738" y1="430.8" y2="430.8"/><text x="750" y="435.8">SC</text></g>
<g class="cTS1"><line x1="713" x2="738" y1="461" y2="461"/><text x="750" y="466">TS1</text></g>
<g class="cTS2"><line x1="713" x2="738" y1="491.2" y2="491.2"/><text x="750" y="496.2">TS2</text></g>
<g class="cTT"><line x1="713" x2="738" y1="521.4" y2="521.4"/><text x="750" y="526.4">TT</text></g>
<g class="cWY"><line x1="713" x2="738" y1="551.6" y2="551.6"/><text x="750" y="556.6">WY</text></g>
<g class="cXJ"><line x1="713" x2="738" y1="581.8" y2="581.8"/><text x="750" y="586.8">XJ</text></g>
</g>
</svg>
